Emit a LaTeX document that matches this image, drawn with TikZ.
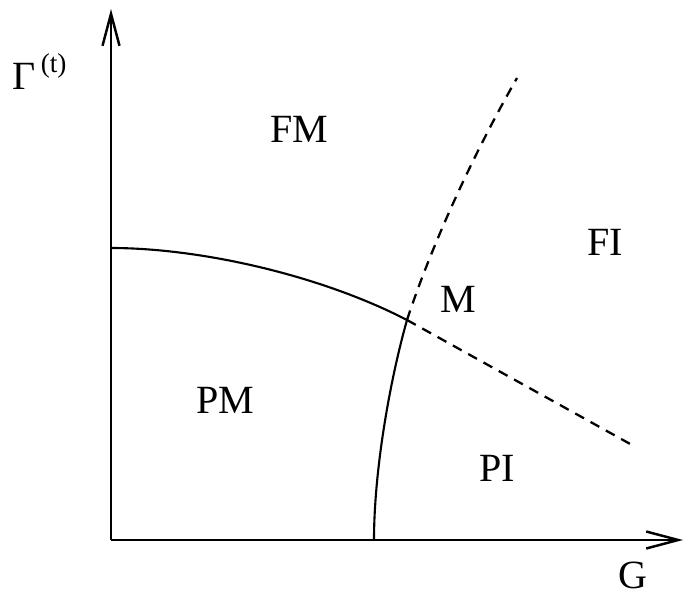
\documentclass[tikz,border=0pt]{standalone}
\usepackage{fontspec}
\setmainfont{Liberation Serif}
\usetikzlibrary{arrows.meta}

\begin{document}
\begin{tikzpicture}[x=0.02cm,y=-0.02cm,
  lbl/.style={font=\fontsize{22.8}{27}\selectfont,inner sep=0pt,anchor=base},
  axis/.style={line width=1.6pt,-{Straight Barb[length=6.4mm,width=3.4mm,line width=1.4pt]}},
  bnd/.style={line width=1.2pt},
  dbnd/.style={line width=1.3pt,dash pattern=on 0.2cm off 0.15cm}]
\useasboundingbox (0,0) rectangle (685,597);
% ---- axes ----
\coordinate (o) at (111,540);
\coordinate (ytip) at (111,9);
\coordinate (xtip) at (683,540);
\draw[axis] (o)--(ytip);
\draw[axis] (o)--(xtip);
\node[lbl,anchor=base west] (gam) at (12,90) {Γ\hspace{3pt}\raisebox{10pt}{\fontsize{15.5}{18}\selectfont(t)}};
\node[lbl] (gg) at (633,588) {G};
% ---- phase boundaries ----
\coordinate (a) at (111,248);
\coordinate (m) at (407,320);
\coordinate (b) at (374,540);
\coordinate (c) at (632,445);
\coordinate (d) at (517,78);
\draw[bnd] (a) .. controls (200,248) and (320,275) .. (m);
\draw[bnd] (b) .. controls (374,470) and (390,380) .. (m);
\draw[dbnd] (m)--(c);
\draw[dbnd] (m) .. controls (430,250) and (470,160) .. (d);
% ---- phases ----
\node[lbl] (fm) at (299,143) {FM};
\node[lbl] (fi) at (605,256) {FI};
\node[lbl] (mm) at (458,313) {M};
\node[lbl] (pm) at (225,413) {PM};
\node[lbl] (pi) at (497,481) {PI};
\end{tikzpicture}
\end{document}
